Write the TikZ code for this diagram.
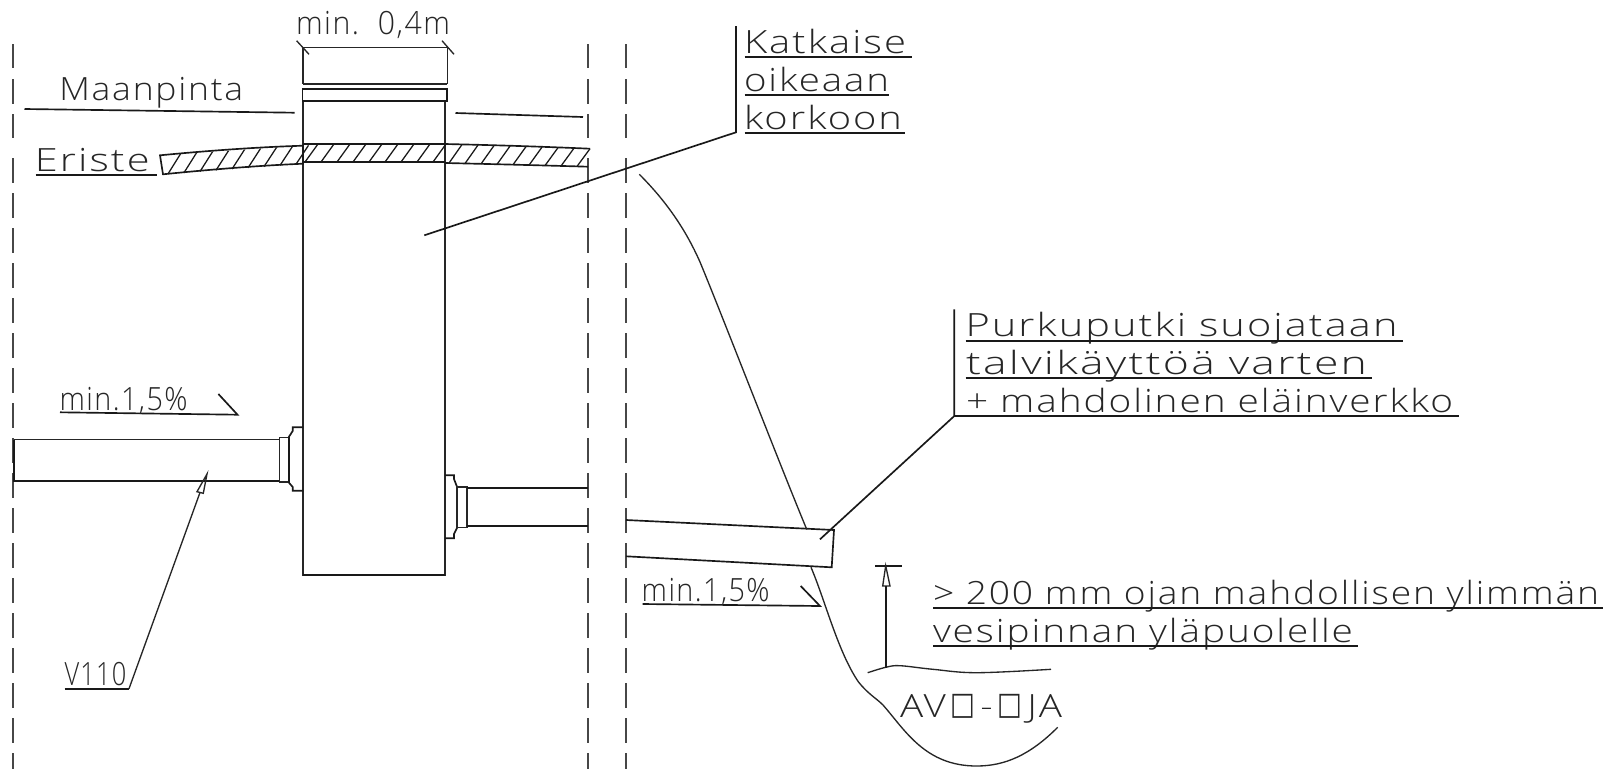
\documentclass[tikz,border=0pt]{standalone}
\usepackage{graphicx}
\usepackage{fontspec}
\setmainfont[LetterSpace=5]{Open Sans Light}
\newfontfamily\boxfont{DejaVu Sans}
\usetikzlibrary{calc}
\newsavebox\lblbox
\newlength\lblwd
\newcommand\lblfont{\normalfont\fontsize{24}{24}\selectfont}
\newcommand\lbl[5]{%
  \node[lbltext] (#1) at (#2,#3) {%
    \sbox\lblbox{\lblfont #5}%
    \setlength\lblwd{\wd\lblbox}%
    \pgfmathsetmacro\lblsx{#4*0.75/\the\lblwd}%
    \scalebox{\lblsx}[1]{\usebox\lblbox}};%
}
\newcommand\boxglyph{\kern3pt\raisebox{2.6pt}{\boxfont\fontsize{24}{24}\selectfont\scalebox{0.68}[0.98]{□}}\kern3pt}
\tikzset{
  lbltext/.style={anchor=base west,inner sep=0pt,outer sep=0pt,text=black!85},
  thick line/.style={line width=1.25pt,black!90,line join=miter},
  thin line/.style={line width=1pt,black!85,line join=miter},
  hatch line/.style={line width=0.95pt,black!90},
  border dash/.style={line width=1.2pt,black!72,dash pattern=on 18.75pt off 7.5pt},
  border solid/.style={line width=1.2pt,black!72},
}
\begin{document}
\begin{tikzpicture}[x=0.75pt,y=-0.75pt]
\useasboundingbox (0,0) rectangle (1621,769);
\fill[white] (0,0) rectangle (1621,769);
% limit lines
\foreach \X in {13,588,626}{
  \draw[border solid] (\X,44) -- (\X,68) (\X,79) -- (\X,104) (\X,114) -- (\X,138);
  \draw[border dash] (\X,158) -- (\X,769);
}
% shaft
\draw[thin line] (303,48) -- (303,84);
\draw[thin line] (447.5,48) -- (447.5,84);
\draw[thin line] (303,101) -- (303,575) -- (445,575) -- (445,101);
\draw[thick line] (303,575) -- (445,575);
% cap
\draw[thin line] (302.5,84) -- (447,84);
\draw[thick line] (302.5,89.3) rectangle (447,101.3);
% dimension
\draw[thin line] (303,47.7) -- (448,47.7);
\draw[thin line] (296.6,40.7) -- (309,54.3);
\draw[thin line] (442,40.7) -- (454,54.3);
% ground
\draw[thick line] (24.5,109) -- (294.6,112.7);
\draw[thick line] (455.5,113) -- (583,117);
% insulation
\draw[thick line] (160,155.3) .. controls (210,150.5) and (260,147) .. (303,145.7) -- (303,163.7) .. controls (260,165.5) and (210,169.5) .. (163,174.3) -- cycle;
\draw[thick line] (303,144) -- (445,144);
\draw[thick line] (303,162) -- (445,162);
\draw[thick line] (445,144) .. controls (490,145) and (540,146.5) .. (590,148.7);
\draw[thick line] (445,163) .. controls (490,164) and (540,165.3) .. (588,166.7);
\draw[hatch line] (590,148.7) -- (577,166.4);
\foreach \x in {168,184,...,296}{
  \draw[hatch line] (\x,{174.3-(\x-163)*0.0757}) -- ({\x+12.5},{155.3-(\x+12.5-160)*0.0671});
}
\draw[hatch line] (303,163.7) -- (303,145.7);
\foreach \x in {305,321,...,433}{
  \draw[hatch line] (\x,162) -- ({\x+13},144);
}
\foreach \x in {449,465,...,569}{
  \draw[hatch line] (\x,{163+(\x-445)*0.0259}) -- ({\x+13},{144+(\x+13-445)*0.0324});
}
% left inlet
\draw[thin line] (14,439.7) -- (279.6,439.7);
\draw[thick line] (14,439.7) -- (14,480.7) -- (279.6,480.7);
\draw[thin line] (279.6,437.7) rectangle (289,482);
\draw[thick line] (303,427.3) -- (292.7,427.3) -- (292.7,431) -- (289,436.7) -- (289,482.7) -- (292.7,487) -- (292.7,490.7) -- (303,490.7);
% right outlet
\draw[thick line] (445,475.3) -- (454,475.3) -- (454,479) -- (457,486.7) -- (457,528) -- (454,534) -- (454,538.3) -- (445,538.3);
\draw[thin line] (457,487) rectangle (467,527.3);
\draw[thick line] (467,488.3) -- (588,488.3);
\draw[thick line] (467,526) -- (588,526);
% discharge pipe
\draw[thick line] (626,520) -- (834,530) -- (831.7,567.3) -- (626,556.3);
% ditch bank
\draw[thin line] (639.3,174.3) .. controls (665,200) and (685,228) .. (700,262) .. controls (720,310) and (780,465) .. (806.7,529.3);
\draw[thin line] (811,567.3) .. controls (825,600) and (838,652) .. (858.3,681.7) .. controls (868,694) and (876,698) .. (883,705) .. controls (905,730) and (925,766) .. (976.7,766) .. controls (1005,766) and (1030,755) .. (1057.7,727.3);
% water level
\draw[thin line] plot[smooth,tension=0.6] coordinates {(867.7,672.7) (885.7,667.3) (900,665.7) (933,669.3) (976.7,672.7) (1051,669.3)};
% height dimension
\draw[thick line] (875,565.7) -- (902.3,565.7);
\draw[thin line] (885.7,565.7) -- (882.7,586) -- (890,586) -- cycle;
\draw[thick line] (885.7,586) -- (885.7,668.3);
% slope marks
\draw[thick line] (60,412.3) -- (237.5,414.7) -- (218.4,394);
\draw[thick line] (642.7,604) -- (820,606) -- (800.7,586);
% labels
\lbl{dimtext}{296}{34.3}{154}{min.\ \ 0,4m}
\lbl{maanpinta}{59.3}{100}{184}{Maanpinta}
\lbl{eriste}{34.8}{171}{115}{Eriste}
\draw[thick line] (35.6,175) -- (157.4,175);
\lbl{slopea}{59.6}{410.7}{128}{min.1,5\%}
\lbl{slopeb}{641.7}{601.7}{128}{min.1,5\%}
\lbl{vsata}{64.5}{685.3}{62}{V110}
\lbl{kata}{744}{53}{162}{Katkaise}
\lbl{katb}{744}{91.3}{145}{oikeaan}
\lbl{katc}{744}{129}{158}{korkoon}
\lbl{pura}{965.5}{336.7}{432}{Purkuputki suojataan}
\lbl{purb}{966}{374}{401}{talvikäyttöä varten}
\lbl{purc}{966}{412}{487}{+ mahdolinen eläinverkko}
\lbl{yla}{933}{604}{666}{> 200 mm ojan mahdollisen ylimmän}
\lbl{ylb}{933}{642.3}{420}{vesipinnan yläpuolelle}
\lbl{oja}{900}{717.7}{162}{AV\boxglyph -\boxglyph JA}
% underlines
\draw[thick line] (744.7,57.3) -- (912,57.3);
\draw[thick line] (744.7,94.7) -- (889,94.7);
\draw[thick line] (744.7,132.7) -- (905,132.7);
\draw[thick line] (965.7,340.7) -- (1402.5,340.7);
\draw[thick line] (965.7,378.3) -- (1372,378.3);
\draw[thick line] (954.3,416) -- (1459,416);
\draw[thick line] (933,607.7) -- (1603.4,607.7);
\draw[thick line] (933,645.7) -- (1358,645.7);
\draw[thick line] (64.5,688.7) -- (129,688.7);
% leaders
\coordinate (katk) at (736,132.3);
\coordinate (katt) at (424.3,235.3);
\draw[thick line] (736,26) -- (katk) -- (katt);
\coordinate (purk) at (954.3,416);
\coordinate (purt) at (820,539.3);
\draw[thick line] (954.3,309.3) -- (purk) -- (purt);
\coordinate (vk) at (129,688.7);
\coordinate (vt) at (207,474);
\draw[thin line] (vk) -- (200,492.5);
\draw[thin line] (vt) -- (197,491.7) -- (203.3,493.3) -- cycle;
\end{tikzpicture}
\end{document}
